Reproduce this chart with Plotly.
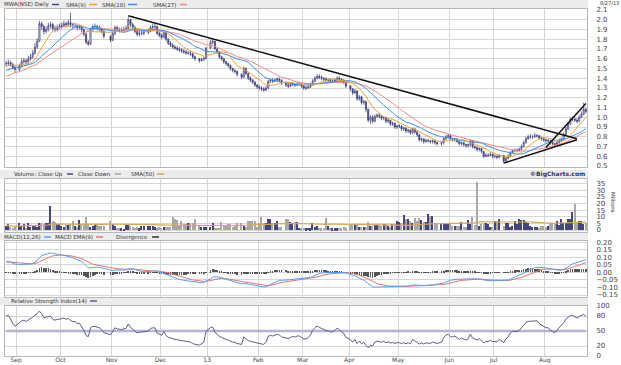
import numpy as np
import pandas as pd
import plotly.graph_objects as go

# ---------------- data ----------------
holidays = ["2012-09-03", "2012-10-29", "2012-10-30", "2012-11-22", "2012-12-25",
            "2013-01-01", "2013-01-21", "2013-02-18", "2013-03-29", "2013-05-27", "2013-07-04"]

# closes before the visible window (inferred from where the averages / MACD / RSI start)
prior_close = [1.16, 1.17, 1.15, 1.18, 1.20, 1.19, 1.22, 1.21, 1.24, 1.26, 1.25, 1.27, 1.30, 1.29,
               1.31, 1.33, 1.35, 1.34, 1.37, 1.40, 1.42, 1.41, 1.44, 1.46, 1.45, 1.47, 1.50, 1.49,
               1.51, 1.52, 1.50, 1.53, 1.52, 1.54, 1.55]

close = [1.55, 1.56, 1.54, 1.51, 1.49, 1.53, 1.57, 1.58, 1.57, 1.60, 1.62, 1.66, 1.72, 1.78,
         1.96, 1.93, 1.88, 1.90, 1.94, 1.95, 1.91, 1.90, 1.92, 1.93, 1.94, 1.96, 1.95, 1.97, 1.95,
         1.94, 1.94, 1.92, 1.93, 1.90, 1.85, 1.77, 1.75, 1.90, 1.93, 1.93, 1.92, 1.91, 1.88, 1.83,
         1.79, 1.86, 1.92, 1.90, 1.89, 1.89, 1.90, 1.91, 2.00, 1.95, 1.92, 1.88, 1.85,
         1.86, 1.86, 1.87, 1.88, 1.92, 1.93, 1.93, 1.86, 1.84, 1.82, 1.87, 1.80, 1.76, 1.74,
         1.72, 1.71, 1.70, 1.69, 1.68, 1.67, 1.66, 1.66, 1.65, 1.62, 1.60, 1.58, 1.59, 1.60,
         1.71, 1.77, 1.78, 1.70, 1.67, 1.62, 1.60, 1.57, 1.55, 1.53, 1.50, 1.48, 1.47, 1.44,
         1.41, 1.50, 1.45, 1.40, 1.38, 1.36, 1.33, 1.31, 1.30, 1.29, 1.28, 1.30, 1.37, 1.38,
         1.37, 1.38, 1.39, 1.38, 1.35, 1.33, 1.32, 1.33, 1.34, 1.33, 1.34, 1.34, 1.32, 1.30,
         1.30, 1.31, 1.33, 1.37, 1.40, 1.42, 1.41, 1.40, 1.39, 1.38, 1.38, 1.37, 1.37, 1.38, 1.40,
         1.39, 1.37, 1.36, 1.32, 1.29, 1.25, 1.27, 1.19, 1.21, 1.15, 1.16, 1.08, 0.97, 1.00,
         0.96, 1.01, 1.02, 1.01, 0.99, 1.00, 0.96, 0.97, 0.93, 0.94, 0.90, 0.91, 0.91, 0.88, 0.89,
         0.86, 0.87, 0.84, 0.88, 0.85, 0.82, 0.77, 0.78, 0.75, 0.76, 0.76, 0.75, 0.76, 0.74, 0.73,
         0.74, 0.78, 0.80, 0.81, 0.78, 0.77, 0.78, 0.75, 0.73, 0.74, 0.72, 0.71, 0.72, 0.76,
         0.70, 0.69, 0.67, 0.68, 0.65, 0.60, 0.61, 0.61, 0.62, 0.60, 0.60, 0.59, 0.61, 0.55,
         0.58, 0.60, 0.64, 0.66, 0.66, 0.66, 0.67, 0.70, 0.74, 0.78, 0.80, 0.80, 0.80, 0.81, 0.81,
         0.79, 0.78, 0.77, 0.76, 0.76, 0.74, 0.73, 0.72, 0.74, 0.76, 0.78, 0.82, 0.88, 0.93, 0.98,
         0.98, 0.97, 0.96, 1.00, 1.03, 1.08, 1.06]

high = [1.58, 1.59, 1.58, 1.56, 1.53, 1.55, 1.60, 1.61, 1.60, 1.63, 1.65, 1.69, 1.76, 1.81,
        1.99, 1.98, 1.95, 1.93, 1.97, 1.98, 1.97, 1.94, 1.95, 1.96, 1.97, 1.99, 1.98, 2.00, 2.07,
        1.97, 1.97, 1.96, 1.95, 1.94, 1.91, 1.87, 1.79, 1.92, 1.95, 1.96, 1.95, 1.94, 1.92, 1.89,
        1.84, 1.88, 1.94, 1.94, 1.92, 1.92, 1.93, 1.94, 2.03, 2.01, 1.97, 1.94, 1.90,
        1.89, 1.89, 1.90, 1.91, 1.94, 1.96, 1.96, 1.94, 1.88, 1.86, 1.89, 1.88, 1.81, 1.78,
        1.76, 1.74, 1.73, 1.72, 1.71, 1.70, 1.69, 1.68, 1.68, 1.66, 1.63, 1.61, 1.61, 1.62,
        1.72, 1.79, 1.80, 1.78, 1.71, 1.68, 1.63, 1.61, 1.58, 1.56, 1.54, 1.51, 1.49, 1.48,
        1.45, 1.52, 1.51, 1.46, 1.42, 1.39, 1.37, 1.34, 1.33, 1.32, 1.31, 1.32, 1.38, 1.40,
        1.40, 1.40, 1.41, 1.41, 1.39, 1.36, 1.35, 1.35, 1.36, 1.35, 1.36, 1.36, 1.35, 1.33,
        1.32, 1.33, 1.35, 1.39, 1.42, 1.44, 1.44, 1.43, 1.41, 1.41, 1.40, 1.40, 1.39, 1.40, 1.42,
        1.42, 1.40, 1.39, 1.37, 1.33, 1.30, 1.29, 1.28, 1.23, 1.22, 1.18, 1.17, 1.09, 1.02,
        1.02, 1.03, 1.04, 1.04, 1.02, 1.01, 1.00, 0.99, 0.97, 0.95, 0.94, 0.92, 0.93, 0.92, 0.90,
        0.89, 0.88, 0.87, 0.89, 0.89, 0.86, 0.83, 0.79, 0.78, 0.78, 0.78, 0.77, 0.77, 0.76, 0.75,
        0.75, 0.79, 0.82, 0.83, 0.82, 0.79, 0.79, 0.78, 0.76, 0.75, 0.74, 0.73, 0.73, 0.77,
        0.76, 0.71, 0.70, 0.69, 0.68, 0.65, 0.63, 0.63, 0.64, 0.63, 0.62, 0.61, 0.62, 0.61,
        0.59, 0.62, 0.65, 0.67, 0.68, 0.68, 0.69, 0.72, 0.76, 0.80, 0.82, 0.83, 0.82, 0.84, 0.83,
        0.82, 0.80, 0.79, 0.78, 0.78, 0.77, 0.75, 0.74, 0.76, 0.78, 0.79, 0.84, 0.90, 0.95, 1.00,
        1.01, 1.00, 0.99, 1.02, 1.06, 1.15, 1.10]

low = [1.52, 1.53, 1.52, 1.49, 1.46, 1.47, 1.51, 1.55, 1.54, 1.55, 1.58, 1.60, 1.64, 1.70,
       1.77, 1.90, 1.85, 1.86, 1.88, 1.91, 1.89, 1.87, 1.88, 1.90, 1.91, 1.92, 1.92, 1.93, 1.92,
       1.91, 1.91, 1.89, 1.90, 1.87, 1.83, 1.75, 1.73, 1.74, 1.88, 1.90, 1.89, 1.88, 1.86, 1.81,
       1.77, 1.78, 1.84, 1.88, 1.87, 1.87, 1.88, 1.88, 1.90, 1.93, 1.90, 1.86, 1.83,
       1.83, 1.84, 1.84, 1.85, 1.87, 1.90, 1.90, 1.84, 1.82, 1.80, 1.81, 1.78, 1.74, 1.72,
       1.70, 1.69, 1.68, 1.67, 1.66, 1.65, 1.64, 1.64, 1.63, 1.60, 1.58, 1.56, 1.57, 1.58,
       1.60, 1.70, 1.75, 1.69, 1.65, 1.60, 1.58, 1.55, 1.53, 1.51, 1.48, 1.46, 1.45, 1.42,
       1.39, 1.40, 1.43, 1.38, 1.36, 1.34, 1.31, 1.29, 1.28, 1.27, 1.26, 1.27, 1.29, 1.35,
       1.35, 1.36, 1.37, 1.36, 1.33, 1.31, 1.30, 1.31, 1.32, 1.31, 1.32, 1.32, 1.30, 1.28,
       1.28, 1.29, 1.30, 1.33, 1.36, 1.39, 1.39, 1.38, 1.37, 1.36, 1.36, 1.35, 1.35, 1.36, 1.37,
       1.37, 1.35, 1.34, 1.30, 1.27, 1.23, 1.24, 1.17, 1.17, 1.13, 1.13, 1.05, 0.95, 0.93,
       0.94, 0.95, 0.99, 0.99, 0.97, 0.97, 0.94, 0.94, 0.91, 0.91, 0.88, 0.88, 0.89, 0.86, 0.86,
       0.84, 0.84, 0.82, 0.83, 0.83, 0.80, 0.75, 0.75, 0.73, 0.74, 0.74, 0.73, 0.73, 0.72, 0.71,
       0.71, 0.72, 0.77, 0.79, 0.77, 0.75, 0.75, 0.74, 0.71, 0.71, 0.70, 0.69, 0.69, 0.70,
       0.68, 0.67, 0.65, 0.65, 0.63, 0.58, 0.59, 0.59, 0.60, 0.58, 0.58, 0.57, 0.58, 0.53,
       0.54, 0.57, 0.59, 0.63, 0.64, 0.64, 0.65, 0.66, 0.69, 0.73, 0.77, 0.78, 0.78, 0.79, 0.79,
       0.77, 0.76, 0.75, 0.74, 0.74, 0.72, 0.71, 0.70, 0.71, 0.73, 0.75, 0.77, 0.82, 0.87, 0.92,
       0.96, 0.95, 0.94, 0.95, 0.99, 1.02, 1.04]

volume = [3.0, 4.3, 2.0, 1.8, 2.5, 5.0, 3.0, 4.3, 1.8, 5.5, 2.5, 3.5, 3.0, 2.5,
          5.0, 5.2, 4.8, 5.0, 5.5, 18.0, 6.8, 6.0, 4.3, 4.3, 3.0, 2.5, 3.5, 3.5, 4.8,
          6.8, 3.0, 2.5, 7.3, 4.3, 3.5, 10.0, 4.3, 2.5, 3.0, 3.5, 3.5, 3.0, 3.0, 2.8,
          6.5, 4.8, 3.0, 1.8, 1.2, 1.5, 1.0, 3.5, 4.0, 3.0, 2.0, 1.8, 2.5,
          1.5, 3.0, 3.0, 3.0, 3.0, 3.0, 2.0, 1.5, 2.0, 1.8, 2.0, 2.5, 2.0, 2.0,
          9.8, 8.5, 7.3, 3.0, 6.8, 4.3, 4.3, 5.5, 5.5, 5.0, 8.0, 3.0, 2.5, 2.5,
          2.5, 2.5, 5.0, 1.8, 1.8, 1.8, 6.3, 3.0, 3.0, 4.8, 4.8, 2.5, 3.0, 5.5,
          5.5, 3.0, 2.5, 6.8, 6.8, 6.8, 6.8, 2.5, 5.5, 9.8, 5.5, 5.5, 8.5, 8.5,
          5.5, 5.5, 6.5, 2.0, 2.0, 8.0, 8.0, 6.0, 5.0, 6.0, 6.0, 1.8, 1.5, 1.8,
          1.5, 1.8, 1.2, 5.5, 2.5, 3.0, 1.8, 1.5, 1.8, 9.3, 3.0, 1.8, 1.5, 1.5, 1.2,
          1.8, 1.5, 2.5, 1.5, 4.3, 4.3, 4.0, 4.3, 2.0, 2.0, 2.0, 2.0, 6.3, 3.0,
          3.0, 4.0, 4.0, 4.0, 3.0, 4.3, 4.3, 3.0, 2.5, 4.3, 4.3, 6.8, 6.0, 5.0, 11.0,
          8.0, 8.0, 6.8, 5.5, 9.3, 6.8, 9.3, 7.5, 6.0, 6.0, 11.8, 10.5, 10.5, 5.5, 4.3,
          4.3, 4.3, 5.5, 5.5, 4.3, 3.0, 3.0, 3.0, 3.0, 6.3, 2.0, 2.0, 7.5, 4.3,
          9.5, 4.0, 36.0, 3.0, 4.3, 5.5, 5.5, 4.3, 2.5, 2.0, 6.8, 6.8, 8.0, 3.0,
          5.5, 5.5, 2.5, 3.0, 6.8, 4.3, 8.5, 7.5, 7.5, 6.0, 5.0, 3.0, 2.0, 2.0, 2.0,
          1.8, 3.0, 3.0, 2.5, 3.0, 5.5, 5.5, 4.3, 6.8, 4.0, 8.5, 5.5, 5.5, 8.0, 8.0,
          13.6, 20.0, 5.5, 6.8, 6.8, 4.3, 5.5]

month_starts = ["2012-09-03", "2012-10-01", "2012-11-01", "2012-12-03", "2013-01-01", "2013-02-01",
                "2013-03-01", "2013-04-01", "2013-05-01", "2013-06-03", "2013-07-01", "2013-08-01"]
month_labels = ["Sep", "Oct", "Nov", "Dec", "13", "Feb", "Mar", "Apr", "May", "Jun", "Jul", "Aug"]

price_ticks = [0.5, 0.6, 0.7, 0.8, 0.9, 1.0, 1.1, 1.2, 1.3, 1.4, 1.5, 1.6, 1.7, 1.8, 1.9, 2.0, 2.1]
volume_ticks = [0, 5, 10, 15, 20, 25, 30, 35, 40]
macd_ticks = [-0.15, -0.10, -0.05, 0.0, 0.05, 0.10, 0.15, 0.20]
rsi_ticks = [0, 20, 50, 80, 100]

# hand-drawn trend lines: (start date, start price, end date, end price)
trend_lines = [("2012-11-12", 2.04, "2013-08-21", 0.78),
               ("2013-07-05", 0.53, "2013-08-21", 0.77),
               ("2013-08-01", 0.69, "2013-08-27", 1.14)]

# ---------------- derived series ----------------
dates = pd.bdate_range("2012-08-27", "2013-08-27")
dates = dates[~dates.isin(pd.to_datetime(holidays))]
x = dates + pd.Timedelta(hours=12)
N = len(close)

opn = [prior_close[-1]] + close[:-1]
full = pd.Series(prior_close + close)
sma9 = full.rolling(9).mean().iloc[-N:].values
sma18 = full.rolling(18).mean().iloc[-N:].values
sma27 = full.rolling(27).mean().iloc[-N:].values
ema12 = full.ewm(span=12, adjust=False).mean()
ema26 = full.ewm(span=26, adjust=False).mean()
macd = ema12 - ema26
sig = macd.ewm(span=9, adjust=False).mean()
div = (macd - sig)
macd, sig, div = macd.iloc[-N:].values, sig.iloc[-N:].values, div.iloc[-N:].values
delta = full.diff()
gain = delta.clip(lower=0).ewm(alpha=1 / 14, adjust=False).mean()
loss = (-delta.clip(upper=0)).ewm(alpha=1 / 14, adjust=False).mean()
rsi = (100 - 100 / (1 + gain / loss)).iloc[-N:].values
vol_sma = pd.Series(volume).rolling(50, min_periods=1).mean().values
up = [c >= o for c, o in zip(close, opn)]

# ---------------- figure ----------------
W, H = 621, 365
def px(v): return v / W
def py(v): return 1 - v / H

NAVY = "#45457f"
GRID = "#d6d6d6"
FONT = dict(family="DejaVu Sans", size=7, color="#444444")

fig = go.Figure()
fig.add_trace(go.Candlestick(x=x, open=opn, high=high, low=low, close=close, xaxis="x", yaxis="y",
                             increasing=dict(line=dict(color=NAVY, width=0.8), fillcolor="#ffffff"),
                             decreasing=dict(line=dict(color=NAVY, width=0.8), fillcolor=NAVY),
                             whiskerwidth=0, showlegend=False, hoverinfo="skip"))
for s, c in [(sma27, "#ee8c8c"), (sma18, "#3d8ef0"), (sma9, "#e3a33c")]:
    fig.add_trace(go.Scatter(x=x, y=s, mode="lines", line=dict(color=c, width=1),
                             xaxis="x", yaxis="y", showlegend=False, hoverinfo="skip"))
for a, b, c, d in trend_lines:
    fig.add_trace(go.Scatter(x=[a + " 12:00", c + " 12:00"], y=[b, d], mode="lines",
                             line=dict(color="#111111", width=1.5), xaxis="x", yaxis="y",
                             showlegend=False, hoverinfo="skip"))

fig.add_trace(go.Bar(x=x, y=volume, marker=dict(color=[NAVY if u else "#a8a8a8" for u in up], line_width=0),
                     width=0.62 * 86400000, xaxis="x2", yaxis="y2", showlegend=False, hoverinfo="skip"))
fig.add_trace(go.Scatter(x=x, y=vol_sma, mode="lines", line=dict(color="#dba850", width=1.2),
                         xaxis="x2", yaxis="y2", showlegend=False, hoverinfo="skip"))

fig.add_trace(go.Bar(x=x, y=div, marker=dict(color="#555555", line_width=0), width=0.28 * 86400000,
                     xaxis="x3", yaxis="y3", showlegend=False, hoverinfo="skip"))
fig.add_trace(go.Scatter(x=x, y=sig, mode="lines", line=dict(color="#e07474", width=1),
                         xaxis="x3", yaxis="y3", showlegend=False, hoverinfo="skip"))
fig.add_trace(go.Scatter(x=x, y=macd, mode="lines", line=dict(color="#5b9cf6", width=1),
                         xaxis="x3", yaxis="y3", showlegend=False, hoverinfo="skip"))

fig.add_trace(go.Scatter(x=[x[0], x[-1]], y=[50, 50], mode="lines", line=dict(color="#b4b4d2", width=2.5),
                         xaxis="x4", yaxis="y4", showlegend=False, hoverinfo="skip"))
fig.add_trace(go.Scatter(x=x, y=rsi, mode="lines", line=dict(color="#5c5c8e", width=1),
                         xaxis="x4", yaxis="y4", showlegend=False, hoverinfo="skip"))

xr = ["2012-08-27", "2013-08-28"]
xcommon = dict(type="date", range=xr, rangebreaks=[dict(bounds=["sat", "mon"])],
               tickmode="array", tickvals=month_starts, ticktext=month_labels,
               showgrid=True, gridcolor=GRID, gridwidth=1, zeroline=False,
               showline=True, linecolor="#b8b8b8", mirror=True, ticks="",
               domain=[px(5), px(587)], fixedrange=True, rangeslider=dict(visible=False))
ycommon = dict(side="right", showgrid=True, gridcolor=GRID, zeroline=False, showline=True,
               linecolor="#b8b8b8", mirror=True, ticks="", tickfont=FONT, ticklabelstandoff=7,
               fixedrange=True, tickmode="array", automargin=False)

layout = dict(width=W, height=H, margin=dict(l=0, r=0, t=0, b=0, autoexpand=False), paper_bgcolor="white",
              plot_bgcolor="white", showlegend=False, bargap=0)
layout["xaxis"] = dict(xcommon, anchor="y", showticklabels=False)
layout["xaxis2"] = dict(xcommon, anchor="y2", showticklabels=False, matches="x")
layout["xaxis3"] = dict(xcommon, anchor="y3", showticklabels=False, matches="x")
layout["xaxis4"] = dict(xcommon, anchor="y4", showticklabels=True, matches="x",
                        tickfont=dict(family="DejaVu Sans", size=6, color="#444444"),
                        ticklabelstandoff=-2, automargin=False)
layout["yaxis"] = dict(ycommon, anchor="x", domain=[py(167), py(9)], range=[0.49, 2.11],
                       tickvals=price_ticks, ticktext=["%.1f" % v for v in price_ticks])
layout["yaxis2"] = dict(ycommon, anchor="x2", domain=[py(232), py(179)], range=[-1.5, 38.5],
                        tickvals=volume_ticks, ticktext=[str(v) for v in volume_ticks])
layout["yaxis3"] = dict(ycommon, anchor="x3", domain=[py(297), py(241)], range=[-0.163, 0.207],
                        tickvals=macd_ticks, ticktext=[("%.2f" % v).replace("-", "\u2212") for v in macd_ticks])
layout["yaxis4"] = dict(ycommon, anchor="x4", domain=[py(356), py(306)], range=[0, 100],
                        tickvals=rsi_ticks, ticktext=[str(v) for v in rsi_ticks])
fig.update_layout(**layout)

# header bands
shapes = []
for y0, y1 in [(0, 8), (170, 179), (233, 240), (297, 305)]:
    shapes.append(dict(type="rect", xref="paper", yref="paper", x0=0, x1=px(588), y0=py(y1), y1=py(y0),
                       fillcolor="#ececec", line_width=0, layer="below"))

HFONT = dict(family="DejaVu Sans", size=5.5, color="#333333")
def label(xp, yp, text, **kw):
    fig.add_annotation(xref="paper", yref="paper", x=px(xp), y=py(yp), text=text, showarrow=False,
                       xanchor=kw.get("xanchor", "right"), yanchor="middle", font=kw.get("font", HFONT),
                       textangle=kw.get("angle", 0), borderpad=0)
def swatch(x0, x1, yp, color, w=1.5):
    shapes.append(dict(type="line", xref="paper", yref="paper", x0=px(x0), x1=px(x1), y0=py(yp), y1=py(yp),
                       line=dict(color=color, width=w)))

label(50, 4.5, "MWA(NSE) Daily"); swatch(52, 59, 4.5, NAVY)
label(87, 4.5, "SMA(9)"); swatch(89, 97, 4.5, "#e3a33c")
label(126, 4.5, "SMA(18)"); swatch(128, 137, 4.5, "#3d8ef0")
label(177, 4.5, "SMA(27)"); swatch(180, 187, 4.5, "#ee8c8c")
label(620, 3.0, "8/27/13", font=dict(family="DejaVu Sans", size=5, color="#333333"))

label(64, 174, "Volume: Close Up"); swatch(67, 73, 174, NAVY)
label(112, 174, "Close Down"); swatch(115, 121, 174, "#a8a8a8")
label(155, 174, "SMA(50)"); swatch(157, 164, 174, "#dba850")
label(586, 174, "<b>\u00a9BigCharts.com</b>", font=dict(family="DejaVu Sans", size=6, color="#33336b"))
label(613, 202, "Millions", xanchor="center", angle=90, font=HFONT)

label(42, 237, "MACD(12,26)"); swatch(44, 51, 237, "#5b9cf6")
label(94, 237, "MACD EMA(9)"); swatch(96, 103, 237, "#e07474")
label(149, 237, "Divergence"); swatch(152, 159, 237, "#333333")

label(88, 301, "Relative Strength Index(14)"); swatch(90, 97, 301, "#5c5c8e")

fig.update_layout(shapes=shapes)
fig.write_html("out.html", config={"displayModeBar": False},
               post_script="document.body.style.margin='0';document.body.style.overflow='hidden';")
